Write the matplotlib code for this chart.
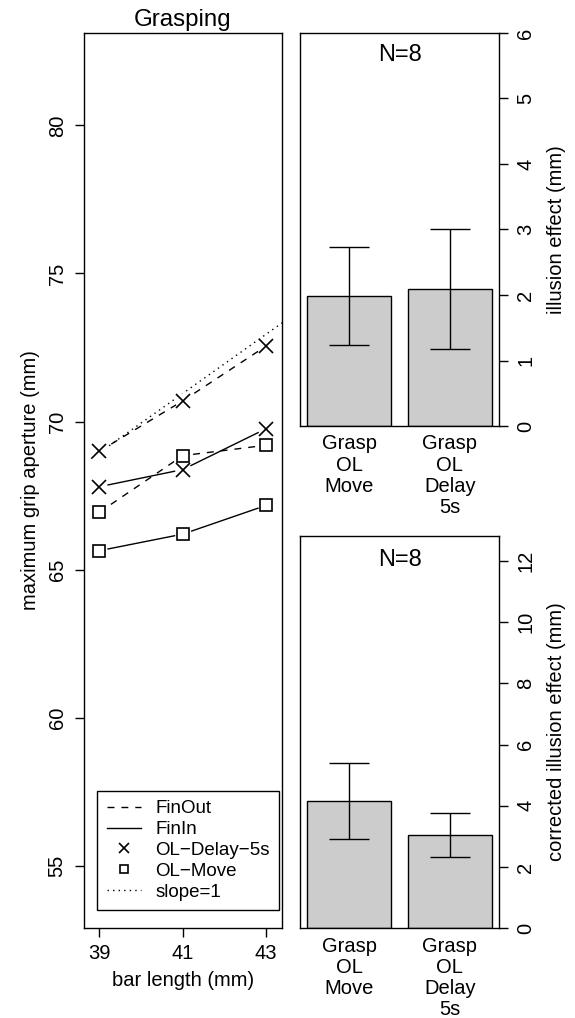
import numpy as np
import matplotlib
matplotlib.use('Agg')
from matplotlib import pyplot as plt
from matplotlib.lines import Line2D

plt.rcParams['font.family'] = ['Liberation Sans', 'DejaVu Sans']
plt.rcParams['font.size'] = 14.5
plt.rcParams['axes.linewidth'] = 1.0
plt.rcParams['xtick.major.width'] = 1.0
plt.rcParams['ytick.major.width'] = 1.0

# left panel data: maximum grip aperture (mm) vs bar length (mm)
bar_length = [39, 41, 43]
delay_finout = [69.0, 70.7, 72.55]
delay_finin = [67.8, 68.38, 69.76]
move_finout = [66.94, 68.85, 69.2]
move_finin = [65.64, 66.2, 67.17]
slope_x = np.array([38.8, 43.5])
slope_intercept = 29.95

# right panels
bar_labels = ['Grasp\nOL\nMove', 'Grasp\nOL\nDelay\n5s']
illusion = [1.99, 2.09]
illusion_err = [0.75, 0.91]
corrected = [4.16, 3.05]
corrected_err = [1.25, 0.71]

W, H = 575, 1018
fig = plt.figure(figsize=(W / 100, H / 100), dpi=100)

def px_axes(x0, y0, x1, y1):
    return fig.add_axes([x0 / W, 1 - y1 / H, (x1 - x0) / W, (y1 - y0) / H])

# ---- left panel
ax = px_axes(84, 33, 282, 928)
dash = (0, (5, 5))
for ys, ls, mk in [(delay_finout, dash, 'x'), (delay_finin, '-', 'x'),
                   (move_finout, dash, 's'), (move_finin, '-', 's')]:
    ax.plot(bar_length, ys, color='k', lw=1.0, ls=ls, zorder=2)
    ax.plot(bar_length, ys, ls='none', marker='o', ms=11, mfc='white', mec='white', zorder=3)
    if mk == 'x':
        ax.plot(bar_length, ys, ls='none', marker='x', ms=10, mew=1.2, color='k', zorder=4)
    else:
        ax.plot(bar_length, ys, ls='none', marker='s', ms=8, mew=1.2, mfc='white', mec='k', zorder=4)
ax.plot(slope_x, slope_x + slope_intercept, color='k', lw=1.0, ls=(0, (1, 3)), zorder=1)

ax.set_xlim(38.63, 43.38)
ax.set_ylim(52.9, 83.12)
ax.set_xticks(bar_length)
ax.set_yticks([55, 60, 65, 70, 75, 80])
ax.tick_params(direction='out', length=6.5, pad=5)
ax.tick_params(axis='y', labelrotation=90, pad=6)
for t in ax.get_yticklabels():
    t.set_va('center')
ax.set_title('Grasping', pad=5)
fig.text(31 / W, 1 - 480 / H, 'maximum grip aperture (mm)', rotation=90, ha='center', va='center')
fig.text(183 / W, 1 - 981 / H, 'bar length (mm)', ha='center', va='center')

handles = [
    Line2D([], [], color='k', lw=1.0, ls=dash),
    Line2D([], [], color='k', lw=1.0, ls='-'),
    Line2D([], [], color='k', ls='none', marker='x', ms=7, mew=1.2),
    Line2D([], [], color='k', ls='none', marker='s', ms=6, mew=1.2, mfc='none'),
    Line2D([], [], color='k', lw=1.0, ls=(0, (1, 3))),
]
names = ['FinOut', 'FinIn', 'OL\u2212Delay\u22125s', 'OL\u2212Move', 'slope=1']
leg = ax.legend(handles, names, loc='lower left', bbox_to_anchor=(0.068, 0.02),
                borderaxespad=0, fancybox=False, framealpha=1, edgecolor='k',
                fontsize=13.5, handlelength=1.8, handletextpad=0.8, borderpad=0.5,
                labelspacing=0.2)
leg.get_frame().set_linewidth(1.0)

# ---- right panels
def bar_panel(y0, y1, vals, errs, ymax, yticks, ylabel, label_y, n_y):
    bx = px_axes(300, y0, 499, y1)
    centers = [0.7, 1.9]
    bx.bar(centers, vals, width=1.0, color='#cccccc', edgecolor='k', lw=1.0, zorder=2)
    bx.errorbar(centers, vals, yerr=errs, fmt='none', ecolor='k', elinewidth=1.0,
                capsize=14.6, capthick=1.0, zorder=3)
    bx.set_xlim(0.112, 2.488)
    bx.set_ylim(0, ymax)
    bx.set_xticks(centers)
    bx.set_xticklabels(bar_labels, linespacing=1.15)
    bx.tick_params(axis='x', length=0, pad=6)
    bx.yaxis.tick_right()
    bx.set_yticks(yticks)
    bx.tick_params(axis='y', direction='out', length=6.5, pad=6, labelrotation=90)
    for t in bx.get_yticklabels():
        t.set_va('center')
    bx.text(0.5, n_y, 'N=8', transform=bx.transAxes, ha='center', va='center', fontsize=17)
    fig.text(556 / W, 1 - label_y / H, ylabel, rotation=90, ha='center', va='center')
    return bx

bar_panel(33, 426, illusion, illusion_err, 6, range(0, 7), 'illusion effect (mm)', 229.5, 0.944)
bar_panel(535.7, 928.3, corrected, corrected_err, 12.82, range(0, 13, 2),
          'corrected illusion effect (mm)', 732, 0.938)

fig.savefig('out.png', dpi=100)
